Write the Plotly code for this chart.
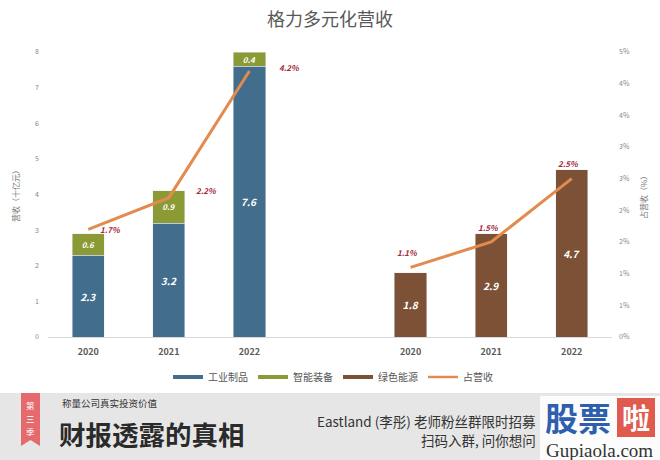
import plotly.graph_objects as go

# ---------------- data ----------------
years = ["2020", "2021", "2022"]
industrial = [2.3, 3.2, 7.6]        # 工业制品
smart_equip = [0.6, 0.9, 0.4]       # 智能装备
green_energy = [1.8, 2.9, 4.7]      # 绿色能源
share_left = [1.7, 2.2, 4.2]        # 占营收 (%) - left group
share_right = [1.1, 1.5, 2.5]       # 占营收 (%) - right group
left_ticks = [0, 1, 2, 3, 4, 5, 6, 7, 8]
right_tickvals = [0, 0.5, 1, 1.5, 2, 2.5, 3, 3.5, 4, 4.5]
right_ticktext = ["0%", "1%", "1%", "2%", "2%", "3%", "3%", "4%", "4%", "5%"]

# slot positions: group A at 0..2, gap at 3, group B at 4..6
xa = list(range(len(years)))
xb = [i + len(years) + 1 for i in range(len(years))]

C_BLUE = "#426D8D"
C_OLIVE = "#8C9A36"
C_BROWN = "#7C5135"
C_LINE = "#E38B4E"
C_LBL = "#A3293A"
FONT = "Noto Sans CJK SC"

# plot area in pixels
L, R, T, B = 48, 612, 52, 337
W, H = 660, 460


def px(x):
    return (x - L) / (R - L)


def py(y):
    return (B - y) / (B - T)


fig = go.Figure()

bar_w = 0.4
bar_font = dict(family=FONT, color="white", size=10, weight="bold", style="italic")

fig.add_trace(go.Bar(x=xa, y=industrial, marker_color=C_BLUE, width=bar_w,
                     text=[f"{v:.1f}" for v in industrial], textposition="inside",
                     insidetextanchor="middle", textangle=0, textfont=bar_font,
                     showlegend=False, yaxis="y"))
fig.add_trace(go.Bar(x=xa, y=smart_equip, marker_color=C_OLIVE, width=bar_w,
                     text=[f"{v:.1f}" for v in smart_equip], textposition="inside",
                     insidetextanchor="middle", textangle=0,
                     textfont=dict(bar_font, size=8), constraintext="none",
                     showlegend=False, yaxis="y"))
fig.add_trace(go.Bar(x=xb, y=green_energy, marker_color=C_BROWN, width=bar_w,
                     text=[f"{v:.1f}" for v in green_energy], textposition="inside",
                     insidetextanchor="middle", textangle=0, textfont=bar_font,
                     showlegend=False, yaxis="y"))

fig.add_trace(go.Scatter(x=xa, y=share_left, mode="lines", line=dict(color=C_LINE, width=3),
                         showlegend=False, yaxis="y2"))
fig.add_trace(go.Scatter(x=xb, y=share_right, mode="lines", line=dict(color=C_LINE, width=3),
                         showlegend=False, yaxis="y2"))

# legend-only entries (line-style swatches)
for name, col in [("工业制品", C_BLUE), ("智能装备", C_OLIVE), ("绿色能源", C_BROWN), ("占营收", C_LINE)]:
    fig.add_trace(go.Scatter(x=[None], y=[None], mode="lines", name=name,
                             line=dict(color=col, width=4 if col != C_LINE else 2.5),
                             yaxis="y"))

annotations = []
# percentage labels
lbl_font = dict(family=FONT, size=8, color=C_LBL, weight="bold", style="italic")
left_shift = [(22, 0), (38, 7), (40, 4)]
for x, v, (dx, dy) in zip(xa, share_left, left_shift):
    annotations.append(dict(x=x, y=v, xref="x", yref="y2", text=f"{v}%", showarrow=False,
                            font=lbl_font, xshift=dx, yshift=dy, xanchor="center"))
for x, v in zip(xb, share_right):
    annotations.append(dict(x=x, y=v, xref="x", yref="y2", text=f"{v}%", showarrow=False,
                            font=lbl_font, xshift=-3, yshift=15, xanchor="center"))


def note(x, y, text, size, color, anchor="center", family=FONT, **kw):
    return dict(x=px(x), y=py(y), xref="paper", yref="paper", text=text, showarrow=False,
                xanchor=anchor, yanchor="middle", font=dict(family=family, size=size, color=color), **kw)


# axis titles
annotations.append(note(15, 194, "营收（十亿元）", 8, "#777", textangle=-90))
annotations.append(note(643, 196, "占营收（%）", 8, "#777", textangle=-90))

# banner texts
for ch, yy in zip("第三季", [405, 418, 431]):
    annotations.append(note(30.5, yy, ch, 8.5, "white"))
annotations += [
    note(60, 403, "称量公司真实投资价值", 9.5, "#333", anchor="left"),
    note(57, 433, "<b>财报透露的真相</b>", 26.5, "#2a2a2a", anchor="left"),
    note(538, 421, "Eastland (李彤) 老师粉丝群限时招募", 13.5, "#333", anchor="right"),
    note(538, 440, "扫码入群, 问你想问", 13.5, "#333", anchor="right"),
    note(578, 417, "<b>股票</b>", 33, "#2E5FAE"),
    note(636, 417, "<b>啦</b>", 28, "white"),
    note(599, 450, "Gupiaola.com", 19, "#333", family="Liberation Serif"),
]

shapes = [
    dict(type="rect", xref="paper", yref="paper", x0=px(0), x1=px(660), y0=py(393), y1=py(460),
         fillcolor="#E6E6E6", line=dict(width=0), layer="below"),
    dict(type="path", xref="paper", yref="paper",
         path=f"M {px(21)},{py(393)} L {px(40)},{py(393)} L {px(40)},{py(446)} "
              f"L {px(30.5)},{py(440)} L {px(21)},{py(446)} Z",
         fillcolor="#E46A6E", line=dict(width=0)),
    dict(type="rect", xref="paper", yref="paper", x0=px(540), x1=px(660), y0=py(396), y1=py(460),
         fillcolor="rgba(255,255,255,0.85)", line=dict(width=0)),
    dict(type="rect", xref="paper", yref="paper", x0=px(617), x1=px(655), y0=py(398), y1=py(437),
         fillcolor="#E05A4E", line=dict(width=0)),
]

fig.update_layout(
    width=W, height=H,
    margin=dict(l=L, r=W - R, t=T, b=H - B),
    paper_bgcolor="white", plot_bgcolor="white",
    barmode="stack", bargap=0.5,
    title=dict(text="格力多元化营收", x=0.5, xref="paper", xanchor="center", y=1 - 20 / H,
               yanchor="middle", font=dict(family=FONT, size=18, color="#595959")),
    xaxis=dict(range=[-0.5, len(xa) + len(xb) + 0.5], tickvals=xa + xb, ticktext=years + years,
               showgrid=False, zeroline=False, showline=True, linecolor="#D9D9D9", linewidth=1,
               ticks="", tickfont=dict(family=FONT, size=9, color="#595959", weight="bold"),
               ticklabelstandoff=6),
    yaxis=dict(range=[0, 8], tickvals=left_ticks, showgrid=False, zeroline=False, showline=False,
               ticks="", tickfont=dict(family=FONT, size=7, color="#888"), ticklabelstandoff=8),
    yaxis2=dict(range=[0, 4.5], overlaying="y", side="right", tickvals=right_tickvals,
                ticktext=right_ticktext, showgrid=False, zeroline=False, showline=False, ticks="",
                tickfont=dict(family=FONT, size=7, color="#888"), ticklabelstandoff=6),
    legend=dict(orientation="h", x=px(333), y=py(377), xanchor="center", yanchor="middle",
                font=dict(family=FONT, size=10, color="#555"), itemwidth=30,
                traceorder="normal", bgcolor="rgba(0,0,0,0)"),
    annotations=annotations,
    shapes=shapes,
    font=dict(family=FONT),
)

fig.write_html("out.html", config={"displayModeBar": False},
               post_script="document.body.style.margin='0';document.body.style.overflow='hidden';")
